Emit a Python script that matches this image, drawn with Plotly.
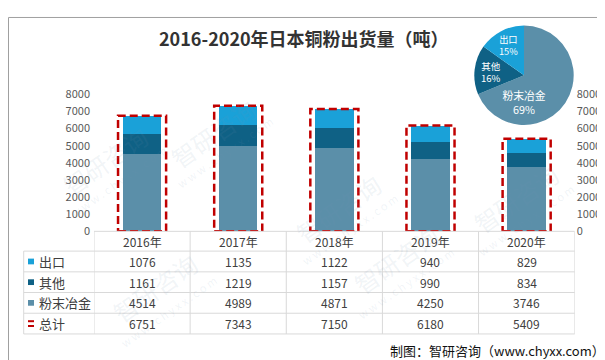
import plotly.graph_objects as go

# ---------------- data ----------------
years = ['2016年', '2017年', '2018年', '2019年', '2020年']
series_names = ['出口', '其他', '粉末冶金']
export_vals = [1076, 1135, 1122, 940, 829]
other_vals = [1161, 1219, 1157, 990, 834]
pm_vals = [4514, 4989, 4871, 4250, 3746]
total_vals = [6751, 7343, 7150, 6180, 5409]
total_name = '总计'
pie_year_index = 3  # pie shows 2019 shares
y_ticks = [0, 1000, 2000, 3000, 4000, 5000, 6000, 7000, 8000]
title_text = '2016-2020年日本铜粉出货量（吨）'
source_text = '制图：智研咨询（www.chyxx.com）'

# ---------------- style ----------------
W, H = 605, 360
C_EXPORT = '#1aa1d8'
C_OTHER = '#0f6185'
C_PM = '#5b8fa9'
C_TOTAL = '#c00000'
GRID = '#d9d9d9'
TXT = '#404040'
FONT = 'Noto Sans CJK SC'

def pxx(p):
    return p / W

def pyy(p):
    return 1 - p / H

fig = go.Figure()

for name, vals, col in [('粉末冶金', pm_vals, C_PM), ('其他', other_vals, C_OTHER), ('出口', export_vals, C_EXPORT)]:
    fig.add_trace(go.Bar(x=years, y=vals, name=name, marker=dict(color=col, line=dict(width=0)),
                         width=0.4, showlegend=False, hoverinfo='y'))

fig.add_trace(go.Scatter(x=years, y=total_vals, yaxis='y2', mode='markers',
                         marker=dict(opacity=0), showlegend=False, hoverinfo='skip'))

pie_labels = ['粉末冶金', '其他', '出口']
pie_values = [pm_vals[pie_year_index], other_vals[pie_year_index], export_vals[pie_year_index]]
cx, cy, r = 516, 61, 52
fig.add_trace(go.Pie(labels=pie_labels, values=pie_values, sort=False, direction='clockwise', rotation=0,
                     marker=dict(colors=[C_PM, C_OTHER, C_EXPORT], line=dict(width=0)),
                     texttemplate='%{label}<br>%{percent:.0%}', textposition='inside',
                     insidetextorientation='horizontal',
                     textfont=dict(color='white', size=12, family=FONT),
                     domain=dict(x=[pxx(cx - r), pxx(cx + r)], y=[pyy(cy + r), pyy(cy - r)]),
                     showlegend=False, hoverinfo='label+percent'))

shapes = []
for i, t in enumerate(total_vals):
    shapes.append(dict(type='rect', xref='x', yref='y', x0=i - 0.25, x1=i + 0.25, y0=0, y1=t,
                       line=dict(color=C_TOTAL, width=2.5, dash='8px,4px'), fillcolor='rgba(0,0,0,0)'))

row_lines = [224.3, 245, 266.7, 288.3, 310, 331.7]
tbl_left = 15.7
n = len(years)
shapes.append(dict(type='line', xref='x', yref='paper', x0=-0.5, x1=n - 0.5,
                   y0=pyy(row_lines[0]), y1=pyy(row_lines[0]), line=dict(color=GRID, width=1)))
for yl in row_lines[1:]:
    shapes.append(dict(type='line', xref='paper', yref='paper', x0=pxx(tbl_left), x1=pxx(566.7),
                       y0=pyy(yl), y1=pyy(yl), line=dict(color=GRID, width=1)))
for k in range(n + 1):
    shapes.append(dict(type='line', xref='x', yref='paper', x0=k - 0.5, x1=k - 0.5,
                       y0=pyy(row_lines[0]), y1=pyy(row_lines[-1]), line=dict(color=GRID, width=1)))
shapes.append(dict(type='line', xref='paper', yref='paper', x0=pxx(tbl_left), x1=pxx(tbl_left),
                   y0=pyy(row_lines[1]), y1=pyy(row_lines[-1]), line=dict(color=GRID, width=1)))

annotations = []
annotations.append(dict(text='<b>' + title_text + '</b>', x=pxx(296), y=pyy(22), xref='paper', yref='paper',
                        showarrow=False, font=dict(size=18, color='#333333', family=FONT),
                        xanchor='center', yanchor='middle'))
for i, yr in enumerate(years):
    annotations.append(dict(text=yr, x=i, y=pyy((row_lines[0] + row_lines[1]) / 2), xref='x', yref='paper',
                            showarrow=False, font=dict(size=12, color=TXT, family=FONT),
                            xanchor='center', yanchor='middle'))
rows = [('出口', export_vals, C_EXPORT), ('其他', other_vals, C_OTHER), ('粉末冶金', pm_vals, C_PM),
        (total_name, total_vals, C_TOTAL)]
for ri, (name, vals, col) in enumerate(rows):
    yc = (row_lines[ri + 1] + row_lines[ri + 2]) / 2
    annotations.append(dict(text=name, x=pxx(29), y=pyy(yc), xref='paper', yref='paper', showarrow=False,
                            font=dict(size=13, color=TXT, family=FONT), xanchor='left', yanchor='middle'))
    if name == total_name:
        for dy in (-2.5, 2.5):
            shapes.append(dict(type='line', xref='paper', yref='paper', x0=pxx(20), x1=pxx(26),
                               y0=pyy(yc + dy), y1=pyy(yc + dy), line=dict(color=col, width=2)))
    else:
        shapes.append(dict(type='rect', xref='paper', yref='paper', x0=pxx(20), x1=pxx(26),
                           y0=pyy(yc + 3), y1=pyy(yc - 3), line=dict(width=0), fillcolor=col))
    for i, v in enumerate(vals):
        annotations.append(dict(text=str(v), x=i, y=pyy(yc), xref='x', yref='paper', showarrow=False,
                                font=dict(size=12, color=TXT, family=FONT), xanchor='center', yanchor='middle'))

annotations.append(dict(text=source_text, x=pxx(599), y=pyy(349), xref='paper', yref='paper', showarrow=False,
                        font=dict(size=13, color='#111111', family=FONT), xanchor='right', yanchor='middle'))

wm = [(205, 75), (45, 150), (330, 200), (560, 190), (95, 330), (440, 300)]
for (wx, wy) in wm:
    annotations.append(dict(text='智研咨询', x=pxx(wx), y=pyy(wy), xref='paper', yref='paper', showarrow=False,
                            textangle=-35, font=dict(size=24, color='rgba(120,150,180,0.11)', family=FONT)))
    annotations.append(dict(text='w w w . c h y x x . c o m', x=pxx(wx + 12), y=pyy(wy + 22), xref='paper',
                            yref='paper', showarrow=False, textangle=-35,
                            font=dict(size=11, color='rgba(120,150,180,0.11)', family=FONT)))

shapes.append(dict(type='rect', xref='paper', yref='paper', x0=pxx(0.5), x1=pxx(W - 0.5), y0=pyy(H - 0.5),
                   y1=pyy(0.5), line=dict(color='#a0a0a0', width=1), fillcolor='rgba(0,0,0,0)', layer='below'))

ydom = [pyy(row_lines[0]), pyy(81)]
axis_font = dict(size=11, color='#595959', family=FONT)
fig.update_layout(
    width=W, height=H,
    margin=dict(l=0, r=0, t=0, b=0),
    paper_bgcolor='white', plot_bgcolor='white',
    barmode='stack', bargap=0.6,
    font=dict(family=FONT, color=TXT),
    xaxis=dict(type='category', domain=[pxx(86), pxx(566.7)], range=[-0.5, n - 0.5],
               showticklabels=False, showgrid=False, zeroline=False, showline=False, fixedrange=True),
    yaxis=dict(domain=ydom, range=[0, 8000], tickvals=y_ticks, showgrid=False, zeroline=False,
               showline=False, ticks='', ticklen=0, ticklabelstandoff=3, tickfont=axis_font),
    yaxis2=dict(overlaying='y', side='right', anchor='x', range=[0, 8000], tickvals=y_ticks,
                showgrid=False, zeroline=False, showline=False, ticks='', ticklen=0, ticklabelstandoff=1,
                tickfont=axis_font),
    shapes=shapes, annotations=annotations,
)

fig.write_html('out.html')
